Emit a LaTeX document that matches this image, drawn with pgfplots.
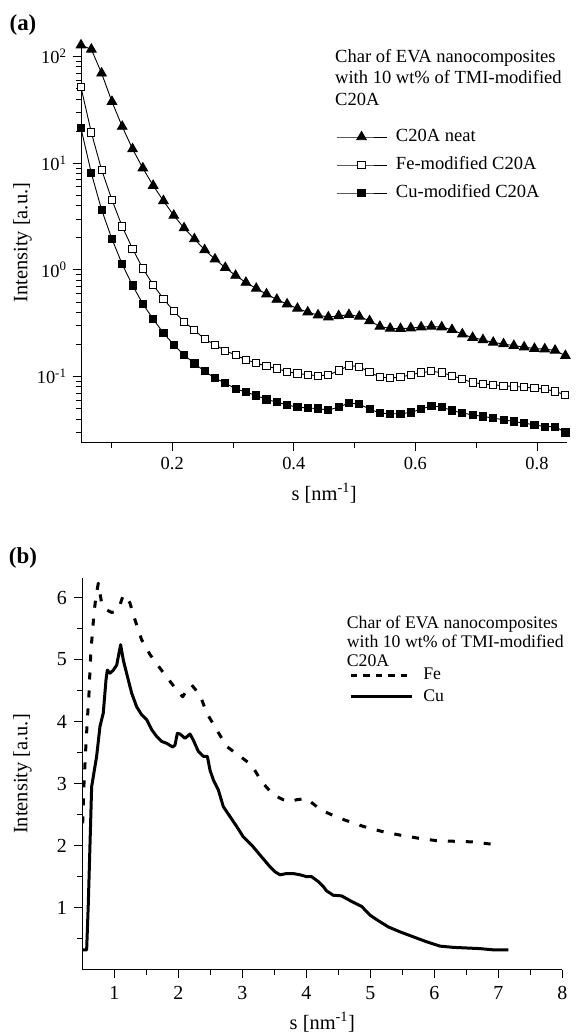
\documentclass[border=0pt]{standalone}
\usepackage{fontspec}
\setmainfont{Liberation Serif}
\usepackage{pgfplots}
\usepackage{pgfplotstable}
\pgfplotsset{compat=1.18}

\pgfplotstableread{
x neat fe cu
0.0500 128 51.6 21.3
0.0670 117 19.4 8.07
0.0839 69.8 8.67 3.66
0.1009 37.8 4.54 1.95
0.1178 22.1 2.55 1.13
0.1348 13.6 1.58 0.714
0.1517 9.0 1.03 0.481
0.1687 6.18 0.725 0.346
0.1856 4.44 0.536 0.256
0.2026 3.24 0.411 0.199
0.2195 2.47 0.326 0.159
0.2365 1.95 0.273 0.133
0.2534 1.54 0.225 0.112
0.2704 1.26 0.199 0.0968
0.2873 1.05 0.175 0.0869
0.3043 0.886 0.159 0.0769
0.3212 0.762 0.144 0.0716
0.3382 0.670 0.134 0.0665
0.3551 0.593 0.125 0.0610
0.3721 0.528 0.119 0.0577
0.3890 0.478 0.111 0.0541
0.4060 0.435 0.107 0.0518
0.4229 0.402 0.104 0.0507
0.4399 0.377 0.102 0.0502
0.4568 0.361 0.103 0.0484
0.4738 0.371 0.114 0.0518
0.4907 0.380 0.127 0.0565
0.5077 0.366 0.124 0.0552
0.5246 0.333 0.110 0.0496
0.5416 0.295 0.0989 0.0455
0.5585 0.283 0.0968 0.0448
0.5755 0.281 0.0989 0.0448
0.5924 0.285 0.104 0.0461
0.6094 0.291 0.109 0.0496
0.6263 0.295 0.112 0.0532
0.6433 0.291 0.109 0.0518
0.6602 0.275 0.102 0.0481
0.6772 0.250 0.0946 0.0455
0.6941 0.232 0.0881 0.0438
0.7111 0.221 0.0851 0.0423
0.7280 0.209 0.0838 0.0408
0.7450 0.202 0.0820 0.0394
0.7619 0.195 0.0808 0.0379
0.7789 0.189 0.0798 0.0366
0.7958 0.183 0.0780 0.0353
0.8128 0.181 0.0763 0.0340
0.8297 0.176 0.0725 0.0340
0.8467 0.157 0.0675 0.0299
}\dataA

\pgfplotstableread{
x y
0.506 2.36
0.527 3.01
0.558 3.65
0.579 4.03
0.605 4.46
0.620 4.83
0.636 5.16
0.662 5.48
0.683 5.75
0.714 6.02
0.750 6.23
0.802 5.91
0.881 5.80
0.959 5.76
1.011 5.77
1.079 5.85
1.141 6.04
1.203 5.99
1.245 5.91
1.323 5.64
1.427 5.32
1.558 5.08
1.714 4.86
1.870 4.65
1.974 4.51
2.068 4.40
2.157 4.54
2.209 4.59
2.339 4.43
2.443 4.14
2.599 3.87
2.755 3.60
2.964 3.44
3.146 3.30
3.302 3.03
3.484 2.82
3.641 2.74
3.745 2.71
3.849 2.74
4.005 2.76
4.161 2.63
4.214 2.58
4.526 2.44
4.891 2.31
5.177 2.23
5.464 2.17
5.750 2.12
6.036 2.08
6.323 2.07
6.609 2.06
6.844 2.03
7.026 2.02
}\feB

\pgfplotstableread{
x y
0.506 0.32
0.568 0.32
0.594 1.07
0.646 2.95
0.724 3.44
0.776 3.92
0.828 4.14
0.870 4.67
0.891 4.83
0.933 4.78
0.985 4.83
1.037 4.91
1.099 5.24
1.141 4.99
1.219 4.67
1.271 4.46
1.349 4.24
1.427 4.11
1.506 4.03
1.584 3.87
1.662 3.76
1.740 3.68
1.818 3.65
1.912 3.59
1.948 3.62
1.985 3.81
2.027 3.80
2.105 3.73
2.183 3.80
2.235 3.70
2.313 3.52
2.391 3.44
2.454 3.44
2.495 3.22
2.547 3.06
2.625 2.90
2.703 2.63
2.807 2.47
2.912 2.31
3.016 2.14
3.146 2.01
3.276 1.85
3.432 1.66
3.510 1.58
3.589 1.53
3.693 1.55
3.797 1.55
3.901 1.53
4.005 1.50
4.083 1.50
4.187 1.42
4.266 1.34
4.318 1.27
4.422 1.20
4.552 1.19
4.708 1.10
4.865 1.02
4.995 0.88
5.125 0.79
5.281 0.69
5.464 0.61
5.672 0.53
5.880 0.45
6.089 0.38
6.297 0.36
6.505 0.35
6.714 0.34
6.922 0.32
7.156 0.32
}\cuB

\begin{document}
\begin{tikzpicture}
\path[use as bounding box] (0,0) rectangle (580bp,1034bp);

% ---------- panel (a) ----------
\node[font=\fontsize{23}{26}\selectfont\bfseries, inner sep=0pt] at (23bp,1009bp) {(a)};
\node[anchor=north west, inner sep=0pt, align=left, font=\fontsize{18.6}{21.5}\selectfont]
  at (335bp,985bp) {Char of EVA nanocomposites\\with 10 wt\% of TMI-modified\\C20A};

\begin{axis}[
  at={(81bp,591.3bp)}, anchor=south west,
  scale only axis, width=486.4bp, height=400bp,
  ymode=log, xmin=0.05, xmax=0.85, ymin=0.024, ymax=135,
  axis lines=left, axis line style={-, line width=1bp},
  tick align=outside,
  major tick length=8bp, minor tick length=5bp,
  tick style={black, line width=1bp},
  xtick={0.2,0.4,0.6,0.8}, xticklabels={0.2,0.4,0.6,0.8},
  minor xtick={0.1,0.3,0.5,0.7},
  minor x tick style={/pgfplots/major tick length=8bp},
  ytick={0.1,1,10,100},
  yticklabels={10\textsuperscript{-1},10\textsuperscript{0},10\textsuperscript{1},10\textsuperscript{2}},
  minor ytick={0.03,0.04,0.05,0.06,0.07,0.08,0.09,0.2,0.3,0.4,0.5,0.6,0.7,0.8,0.9,2,3,4,5,6,7,8,9,20,30,40,50,60,70,80,90},
  ticklabel style={font=\fontsize{18.5}{20}\selectfont},
  xticklabel style={yshift=-3bp},
  yticklabel style={xshift=-3bp},
  xlabel={s [nm\textsuperscript{-1}]},
  ylabel={Intensity [a.u.]},
  label style={font=\fontsize{20.5}{22}\selectfont},
  xlabel style={at={(axis description cs:0.5,-0.126)}, anchor=center},
  ylabel style={at={(axis description cs:-0.1203,0.5)}, anchor=center},
  clip=false,
  legend cell align=left,
  legend image code/.code={\draw[mark repeat=2,mark phase=2,#1] plot coordinates {(0bp,0bp) (25bp,0bp) (50bp,0bp)};},
  legend style={at={(0.524,0.786)}, anchor=north west, draw=none, fill=none,
    inner sep=0pt, row sep=11bp, column sep=9bp,
    font=\fontsize{18.6}{21}\selectfont,
    nodes={inner sep=0pt, text height=13bp, text depth=4bp}},
]
\addplot[black, line width=0.9bp, mark=triangle*, mark size=5.5bp, mark options={fill=black, solid}]
  table[x=x, y=neat] {\dataA};
\addlegendentry{C20A neat}
\addplot[black, line width=0.9bp, mark=square*, mark size=3.6bp, mark options={fill=white, draw=black, line width=1bp, solid}]
  table[x=x, y=fe] {\dataA};
\addlegendentry{Fe-modified C20A}
\addplot[black, line width=0.9bp, mark=square*, mark size=3.6bp, mark options={fill=black, solid}]
  table[x=x, y=cu] {\dataA};
\addlegendentry{Cu-modified C20A}
\end{axis}

% ---------- panel (b) ----------
\node[font=\fontsize{23}{26}\selectfont\bfseries, inner sep=0pt] at (23bp,476.5bp) {(b)};
\node[anchor=north west, inner sep=0pt, align=left, font=\fontsize{17.8}{19.1}\selectfont]
  at (346.7bp,418.5bp) {Char of EVA nanocomposites\\with 10 wt\% of TMI-modified\\C20A};

\begin{axis}[
  at={(82.3bp,64.3bp)}, anchor=south west,
  scale only axis, width=480bp, height=391.4bp,
  xmin=0.5, xmax=8, ymin=0, ymax=6.31,
  axis lines=left, axis line style={-, line width=1bp},
  tick align=outside,
  major tick length=8bp, minor tick length=5bp,
  tick style={black, line width=1bp},
  xtick={1,2,3,4,5,6,7,8}, xticklabels={1,2,3,4,5,6,7,8},
  minor xtick={1.5,2.5,3.5,4.5,5.5,6.5,7.5},
  ytick={1,2,3,4,5,6}, yticklabels={1,2,3,4,5,6},
  minor ytick={0.5,1.5,2.5,3.5,4.5,5.5},
  ticklabel style={font=\fontsize{20}{22}\selectfont},
  xticklabel style={yshift=-5bp},
  yticklabel style={xshift=-4bp},
  xlabel={s [nm\textsuperscript{-1}]},
  ylabel={Intensity [a.u.]},
  label style={font=\fontsize{20.5}{22}\selectfont},
  xlabel style={at={(axis description cs:0.5,-0.134)}, anchor=center},
  ylabel style={at={(axis description cs:-0.1246,0.5)}, anchor=center},
  legend cell align=left,
  legend image code/.code={\draw[#1] (0bp,0bp) -- (61bp,0bp);},
  legend style={at={(0.556,0.775)}, anchor=north west, draw=none, fill=none,
    inner sep=0pt, row sep=4.7bp, column sep=10bp,
    font=\fontsize{17.8}{19}\selectfont,
    nodes={inner sep=0pt, text height=13bp, text depth=4bp}},
]
\addplot[black, line width=3bp, dash pattern=on 7bp off 11bp, line join=round,
  legend image post style={dash pattern=on 6.5bp off 6bp}]
  table[x=x, y=y] {\feB};
\addlegendentry{Fe}
\addplot[black, line width=3bp, line join=round]
  table[x=x, y=y] {\cuB};
\addlegendentry{Cu}
\end{axis}
\end{tikzpicture}
\end{document}
